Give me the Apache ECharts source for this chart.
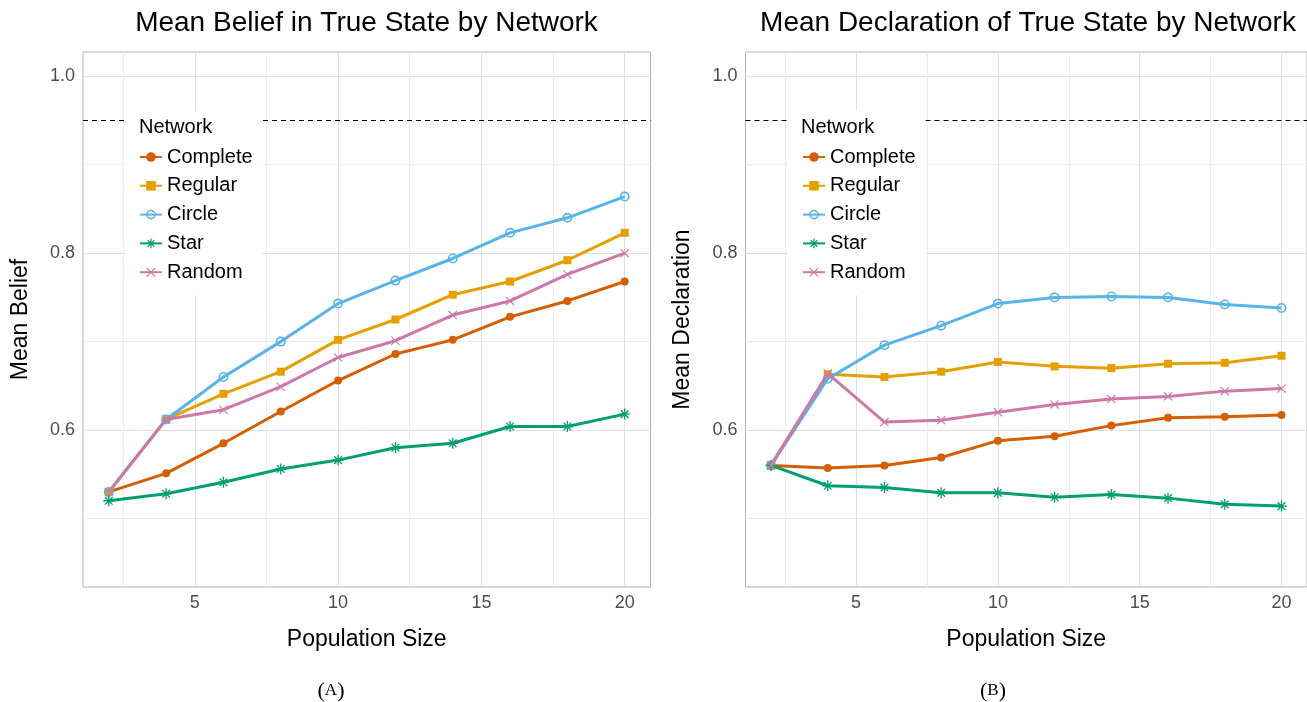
<!DOCTYPE html>
<html><head><meta charset="utf-8">
<script src="https://cdn.jsdelivr.net/npm/echarts@6/dist/echarts.min.js"></script>
<style>html,body{margin:0;padding:0;background:#fff}#c{width:1307px;height:702px}</style>
</head><body><div id="c"></div>
<script>
// ---------- data ----------
const sizes = [2, 4, 6, 8, 10, 12, 14, 16, 18, 20];
const networks = ['Complete', 'Regular', 'Circle', 'Star', 'Random'];

const beliefComplete = [0.530, 0.551, 0.585, 0.621, 0.656, 0.686, 0.702, 0.728, 0.746, 0.768];
const beliefRegular  = [0.530, 0.612, 0.641, 0.666, 0.702, 0.725, 0.753, 0.768, 0.792, 0.823];
const beliefCircle   = [0.530, 0.612, 0.660, 0.700, 0.743, 0.769, 0.794, 0.823, 0.840, 0.864];
const beliefStar     = [0.520, 0.528, 0.541, 0.556, 0.566, 0.580, 0.585, 0.604, 0.604, 0.618];
const beliefRandom   = [0.530, 0.612, 0.623, 0.649, 0.682, 0.701, 0.730, 0.746, 0.776, 0.800];

const declComplete = [0.560, 0.557, 0.560, 0.569, 0.588, 0.593, 0.605, 0.614, 0.615, 0.617];
const declRegular  = [0.560, 0.663, 0.660, 0.666, 0.677, 0.672, 0.670, 0.675, 0.676, 0.684];
const declCircle   = [0.560, 0.658, 0.696, 0.718, 0.743, 0.750, 0.751, 0.750, 0.742, 0.738];
const declStar     = [0.560, 0.537, 0.535, 0.529, 0.529, 0.524, 0.527, 0.523, 0.516, 0.514];
const declRandom   = [0.560, 0.664, 0.609, 0.611, 0.620, 0.629, 0.635, 0.638, 0.644, 0.647];

const xTickLabels = [5, 10, 15, 20];
const xMinorTicks = [2.5, 7.5, 12.5, 17.5];
const yTickLabels = [0.6, 0.8, 1.0];
const yMinorTicks = [0.5, 0.7, 0.9];
const threshold = 0.95;

// ---------- styling ----------
const FONT = '"Liberation Sans", Arial, sans-serif';
const colors = { Complete: '#D55E00', Regular: '#E69F00', Circle: '#56B4E9', Star: '#009E73', Random: '#CC79A7' };
const RING = 'path://M0,50A50,50,0,1,0,100,50A50,50,0,1,0,0,50ZM16,50A34,34,0,1,1,84,50A34,34,0,1,1,16,50Z';
const ASTER = 'path://M44,0L56,0L56,100L44,100ZM0,44L100,44L100,56L0,56ZM19.24,10.76L89.24,80.76L80.76,89.24L10.76,19.24ZM80.76,10.76L89.24,19.24L19.24,89.24L10.76,80.76Z';
const CROSS = 'path://M4.95,-4.95L104.95,95.05L95.05,104.95L-4.95,4.95ZM95.05,-4.95L104.95,4.95L4.95,104.95L-4.95,95.05Z';
const symbols = { Complete: ['circle', 8], Regular: ['rect', 8], Circle: [RING, 10], Star: [ASTER, 11], Random: [CROSS, 9] };

const beliefData = { Complete: beliefComplete, Regular: beliefRegular, Circle: beliefCircle, Star: beliefStar, Random: beliefRandom };
const declData = { Complete: declComplete, Regular: declRegular, Circle: declCircle, Star: declStar, Random: declRandom };

const gridW = 567.5, gridH = 535, gridTop = 52;
const grids = [
  { left: 83, top: gridTop, width: gridW, height: gridH, show: true, borderColor: '#b3b3b3', borderWidth: 1, backgroundColor: 'transparent' },
  { left: 745.5, top: gridTop, width: gridW, height: gridH, show: true, borderColor: '#b3b3b3', borderWidth: 1, backgroundColor: 'transparent' }
];

function xAxes(gi) {
  return [
    { type: 'value', gridIndex: gi, min: 1.1, max: 20.9, name: 'Population Size', nameLocation: 'middle', nameGap: 41,
      nameTextStyle: { fontSize: 23, color: '#000', fontFamily: FONT },
      axisLine: { show: false },
      axisTick: { show: false, customValues: xTickLabels },
      axisLabel: { customValues: xTickLabels, fontSize: 18, color: '#4d4d4d', fontFamily: FONT, margin: 7 },
      splitLine: { show: true, lineStyle: { color: '#dedede', width: 1 } } },
    { type: 'value', gridIndex: gi, min: 1.1, max: 20.9, show: true,
      axisLine: { show: false },
      axisTick: { show: false, customValues: xMinorTicks },
      axisLabel: { show: false, customValues: xMinorTicks },
      splitLine: { show: true, lineStyle: { color: '#ececec', width: 1 } } }
  ];
}
function yAxes(gi, name) {
  return [
    { type: 'value', gridIndex: gi, min: 0.4225, max: 1.0275, name: name, nameLocation: 'middle', nameGap: 51,
      nameTextStyle: { fontSize: 23, color: '#000', fontFamily: FONT },
      axisLine: { show: false },
      axisTick: { show: false, customValues: yTickLabels },
      axisLabel: { customValues: yTickLabels, fontSize: 18, color: '#4d4d4d', fontFamily: FONT, margin: 8,
        formatter: v => v.toFixed(1) },
      splitLine: { show: true, lineStyle: { color: '#dedede', width: 1 } } },
    { type: 'value', gridIndex: gi, min: 0.4225, max: 1.0275, show: true,
      axisLine: { show: false },
      axisTick: { show: false, customValues: yMinorTicks },
      axisLabel: { show: false, customValues: yMinorTicks },
      splitLine: { show: true, lineStyle: { color: '#ececec', width: 1 } } }
  ];
}

function makeSeries(dataMap, xi, yi) {
  return networks.map((n, k) => {
    const s = {
      name: n, type: 'line', xAxisIndex: xi, yAxisIndex: yi,
      data: sizes.map((x, i) => [x, dataMap[n][i]]),
      symbol: symbols[n][0], symbolSize: symbols[n][1], showSymbol: true,
      lineStyle: { color: colors[n], width: 3 },
      itemStyle: { color: colors[n] },
      z: 2 + k * 0.01,
      animation: false
    };
    if (k === 0) {
      s.markLine = { silent: true, symbol: 'none', animation: false,
        label: { show: false },
        lineStyle: { color: '#000', type: [5, 4], width: 1.2 },
        data: [{ yAxis: threshold }] };
    }
    return s;
  });
}

function legendAt(left) {
  return {
    orient: 'vertical', left: left, top: 110, backgroundColor: '#fff',
    padding: [37, 10, 13, 14], itemGap: 8.8, itemWidth: 22, itemHeight: 12,
    textStyle: { fontSize: 20, color: '#000', fontFamily: FONT },
    selectedMode: false, data: networks, z: 10
  };
}

const textEl = (x, y, text, size, extra) => Object.assign({
  type: 'text', x: x, y: y, z: 100,
  style: { text: text, fontSize: size, fontFamily: FONT, fill: '#000', align: 'center', verticalAlign: 'middle' }
}, extra || {});

const captionEl = (x, y, letter) => ({
  type: 'text', x: x, y: y, z: 100,
  style: { text: '{p|(}{l|' + letter + '}{p|)}', align: 'center', verticalAlign: 'middle',
    rich: { p: { fontSize: 22, fontFamily: '"Liberation Serif", serif', fill: '#000' },
            l: { fontSize: 17, fontFamily: '"Liberation Serif", serif', fill: '#000' } } }
});

const option = {
  animation: false,
  backgroundColor: '#fff',
  grid: grids,
  xAxis: [...xAxes(0), ...xAxes(1)],
  yAxis: [...yAxes(0, 'Mean Belief'), ...yAxes(1, 'Mean Declaration')],
  legend: [legendAt(125), legendAt(788)],
  series: [...makeSeries(beliefData, 0, 0), ...makeSeries(declData, 2, 2)],
  graphic: [
    textEl(366.5, 23, 'Mean Belief in True State by Network', 28),
    textEl(1028, 23, 'Mean Declaration of True State by Network', 28),
    { type: 'text', x: 139, y: 127, z: 100, style: { text: 'Network', fontSize: 20, fontFamily: FONT, fill: '#000', align: 'left', verticalAlign: 'middle' } },
    { type: 'text', x: 801, y: 127, z: 100, style: { text: 'Network', fontSize: 20, fontFamily: FONT, fill: '#000', align: 'left', verticalAlign: 'middle' } },
    captionEl(331, 691, 'A'),
    captionEl(993, 691, 'B')
  ]
};

const chart = echarts.init(document.getElementById('c'), null, { renderer: 'canvas' });
chart.setOption(option);
</script>
</body></html>
